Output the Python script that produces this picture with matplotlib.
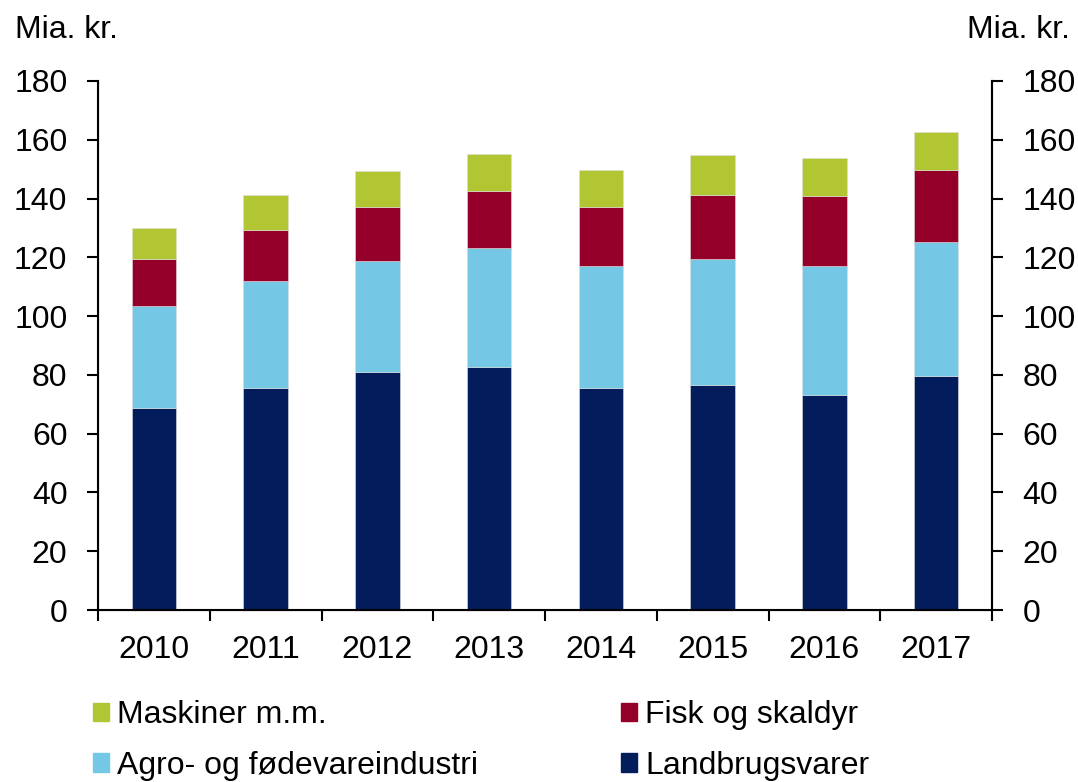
import matplotlib
matplotlib.use("Agg")
import matplotlib.pyplot as plt
from matplotlib.patches import Patch
import numpy as np

years = ["2010", "2011", "2012", "2013", "2014", "2015", "2016", "2017"]
landbrug = [68.7, 75.7, 81.0, 82.6, 75.7, 76.4, 73.0, 79.5]
agro_total = [103.5, 111.9, 118.9, 123.2, 116.9, 119.5, 116.9, 125.3]
fisk_total = [119.5, 129.4, 137.0, 142.7, 137.0, 141.3, 141.0, 149.6]
mask_total = [130.0, 141.3, 149.5, 155.3, 149.6, 154.7, 153.9, 162.7]

agro = [a - b for a, b in zip(agro_total, landbrug)]
fisk = [a - b for a, b in zip(fisk_total, agro_total)]
mask = [a - b for a, b in zip(mask_total, fisk_total)]

c_land = "#031D5C"
c_agro = "#74C8E5"
c_fisk = "#95002A"
c_mask = "#B2C634"

plt.rcParams['font.family'] = ['Liberation Sans', 'DejaVu Sans']
FS = 23

fig = plt.figure(figsize=(10.78, 7.82), dpi=100)
ax = fig.add_axes([98/1078, 1 - 610/782, (992-98)/1078, (610-81)/782])

x = np.arange(len(years))
w = 0.40
ec = dict(edgecolor="#dddddd", linewidth=0.4)
ax.bar(x, landbrug, w, color=c_land, **ec)
ax.bar(x, agro, w, bottom=landbrug, color=c_agro, **ec)
ax.bar(x, fisk, w, bottom=agro_total, color=c_fisk, **ec)
ax.bar(x, mask, w, bottom=fisk_total, color=c_mask, **ec)

ax.set_xlim(-0.5, len(years) - 0.5)
ax.set_ylim(0, 180)
ax.set_yticks(np.arange(0, 181, 20))
ax.set_xticks(np.arange(-0.5, len(years), 1.0))
ax.set_xticklabels([])
ax.set_xticks(x, minor=True)
ax.set_xticklabels(years, minor=True)
ax.tick_params(axis='x', which='minor', length=0, pad=18, labelsize=FS)
ax.tick_params(axis='x', which='major', length=8, width=1.5, direction='out')
ax.tick_params(axis='y', length=8, width=1.5, direction='out', labelsize=FS, pad=14)

ax.spines['top'].set_visible(False)
for s in ['left', 'right', 'bottom']:
    ax.spines[s].set_linewidth(1.5)

ax2 = ax.twinx()
ax2.set_ylim(0, 180)
ax2.set_yticks(np.arange(0, 181, 20))
ax2.tick_params(axis='y', length=8, width=1.5, direction='out', labelsize=FS, pad=14)
ax2.spines['top'].set_visible(False)
ax2.spines['right'].set_linewidth(1.5)

fig.text(15/1078, 1 - 30/782, "Mia. kr.", fontsize=FS, ha='left', va='center')
fig.text(1070/1078, 1 - 30/782, "Mia. kr.", fontsize=FS, ha='right', va='center')

handles = [Patch(color=c_mask, label="Maskiner m.m."),
           Patch(color=c_agro, label="Agro- og fødevareindustri"),
           Patch(color=c_fisk, label="Fisk og skaldyr"),
           Patch(color=c_land, label="Landbrugsvarer")]
fig.legend(handles=handles, ncol=2, loc='upper left',
           bbox_to_anchor=(93/1078, 1 - 700/782), frameon=False,
           fontsize=FS, handlelength=0.5, handleheight=0.5,
           handletextpad=0.25, columnspacing=4.48, labelspacing=0.65,
           borderaxespad=0, borderpad=0)

fig.savefig("out.png", dpi=100)
